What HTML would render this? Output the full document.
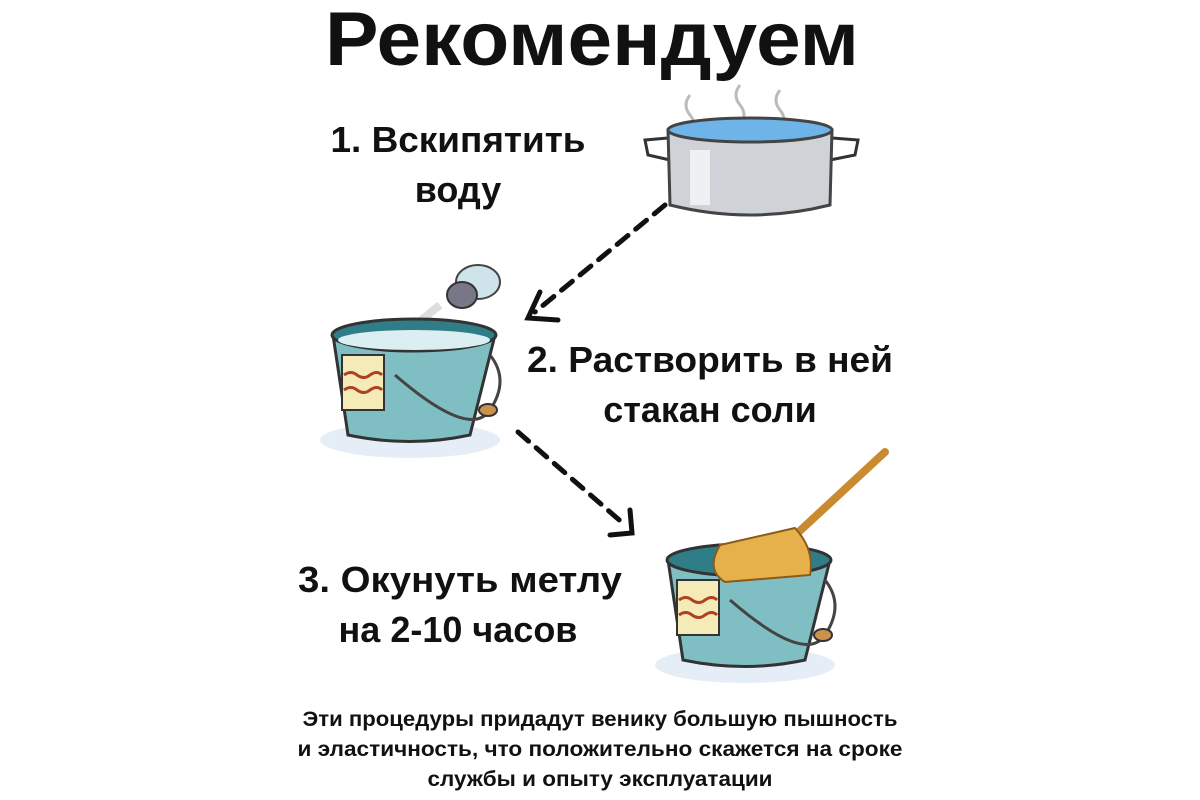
<!DOCTYPE html>
<html><head><meta charset="utf-8"><style>
body{margin:0;width:1200px;height:800px;background:#fff;overflow:hidden}
svg{display:block}
text{font-family:"Liberation Sans","DejaVu Sans",sans-serif;font-weight:bold;fill:#111}
</style></head><body>
<svg width="1200" height="800" viewBox="0 0 1200 800">
<text x="592" y="65" font-size="76" text-anchor="middle" textLength="534" lengthAdjust="spacingAndGlyphs">Рекомендуем</text>
<text x="458" y="152" font-size="36" text-anchor="middle" textLength="255" lengthAdjust="spacingAndGlyphs">1. Вскипятить</text>
<text x="458" y="202" font-size="36" text-anchor="middle">воду</text>
<text x="710" y="372" font-size="36" text-anchor="middle" textLength="366" lengthAdjust="spacingAndGlyphs">2. Растворить в ней</text>
<text x="710" y="422" font-size="36" text-anchor="middle">стакан соли</text>
<text x="460" y="592" font-size="36" text-anchor="middle" textLength="324" lengthAdjust="spacingAndGlyphs">3. Окунуть метлу</text>
<text x="458" y="642" font-size="36" text-anchor="middle">на 2-10 часов</text>
<text x="600" y="726" font-size="21" text-anchor="middle" textLength="595" lengthAdjust="spacingAndGlyphs">Эти процедуры придадут венику большую пышность</text>
<text x="600" y="756" font-size="21" text-anchor="middle" textLength="605" lengthAdjust="spacingAndGlyphs">и эластичность, что положительно скажется на сроке</text>
<text x="600" y="786" font-size="21" text-anchor="middle" textLength="345" lengthAdjust="spacingAndGlyphs">службы и опыту эксплуатации</text>

<!-- pot -->
<g stroke="#333" stroke-width="3" fill="none">
<path d="M690 95 q-8 10 0 20 q8 10 0 20" stroke="#bbb"/>
<path d="M740 85 q-8 10 0 20 q8 10 0 20" stroke="#bbb"/>
<path d="M780 90 q-8 10 0 20 q8 10 0 20" stroke="#bbb"/>
<path d="M668 138 L645 140 L648 155 L670 160"/>
<path d="M832 138 L858 140 L855 155 L830 160"/>
</g>
<path d="M668 130 L670 205 Q750 225 830 205 L832 130 Z" fill="#cfd3d8" stroke="#444" stroke-width="3"/>
<ellipse cx="750" cy="130" rx="82" ry="12" fill="#6fb4e8" stroke="#444" stroke-width="3"/>
<rect x="690" y="150" width="20" height="55" fill="#eef0f2"/>

<!-- dashed arrows -->
<g stroke="#111" stroke-width="5" fill="none" stroke-dasharray="14 10" stroke-linecap="round">
<path d="M665 205 L535 312"/>
<path d="M518 432 L625 525"/>
</g>
<g stroke="#111" stroke-width="5" fill="none" stroke-linecap="round">
<path d="M540 292 L528 318 L558 320"/>
<path d="M630 510 L632 533 L610 535"/>
</g>

<!-- shaker -->
<ellipse cx="478" cy="282" rx="22" ry="17" fill="#cfe3ea" stroke="#444" stroke-width="2"/>
<ellipse cx="462" cy="295" rx="15" ry="13" fill="#778" stroke="#333" stroke-width="2"/>
<path d="M440 305 L415 325" stroke="#ddd" stroke-width="8"/>

<!-- bucket 1 -->
<g>
<ellipse cx="410" cy="440" rx="90" ry="18" fill="#e5eef6"/>
<path d="M333 335 L348 435 Q410 448 470 435 L495 335 Z" fill="#7fbfc4" stroke="#333" stroke-width="3"/>
<ellipse cx="414" cy="335" rx="82" ry="16" fill="#2f7d86" stroke="#333" stroke-width="3"/>
<ellipse cx="414" cy="340" rx="76" ry="10" fill="#dbeff2"/>
<path d="M395 375 Q470 440 490 410 Q510 380 490 355" stroke="#444" stroke-width="3" fill="none"/>
<ellipse cx="488" cy="410" rx="9" ry="6" fill="#c9934f" stroke="#333" stroke-width="2"/>
<rect x="342" y="355" width="42" height="55" fill="#f4ebb8" stroke="#333" stroke-width="2"/>
<path d="M344 375 q7 -5 13 0 q7 5 13 0 q7 -5 12 0 M344 390 q7 -5 13 0 q7 5 13 0 q7 -5 12 0" stroke="#b04020" stroke-width="3" fill="none"/>
</g>

<!-- bucket 2 -->
<g>
<ellipse cx="745" cy="665" rx="90" ry="18" fill="#e5eef6"/>
<path d="M668 560 L683 660 Q745 673 805 660 L830 560 Z" fill="#7fbfc4" stroke="#333" stroke-width="3"/>
<ellipse cx="749" cy="560" rx="82" ry="16" fill="#2f7d86" stroke="#333" stroke-width="3"/>
<path d="M730 600 Q805 665 825 635 Q845 605 825 580" stroke="#444" stroke-width="3" fill="none"/>
<ellipse cx="823" cy="635" rx="9" ry="6" fill="#c9934f" stroke="#333" stroke-width="2"/>
<rect x="677" y="580" width="42" height="55" fill="#f4ebb8" stroke="#333" stroke-width="2"/>
<path d="M679 600 q7 -5 13 0 q7 5 13 0 q7 -5 12 0 M679 615 q7 -5 13 0 q7 5 13 0 q7 -5 12 0" stroke="#b04020" stroke-width="3" fill="none"/>
<!-- broom -->
<path d="M885 452 L790 540" stroke="#c98a30" stroke-width="8" stroke-linecap="round"/>
<path d="M795 528 L720 545 Q705 570 725 582 L810 575 Q815 550 795 528 Z" fill="#e6b04a" stroke="#8a5a1a" stroke-width="2"/>
</g>
</svg>
</body></html>
